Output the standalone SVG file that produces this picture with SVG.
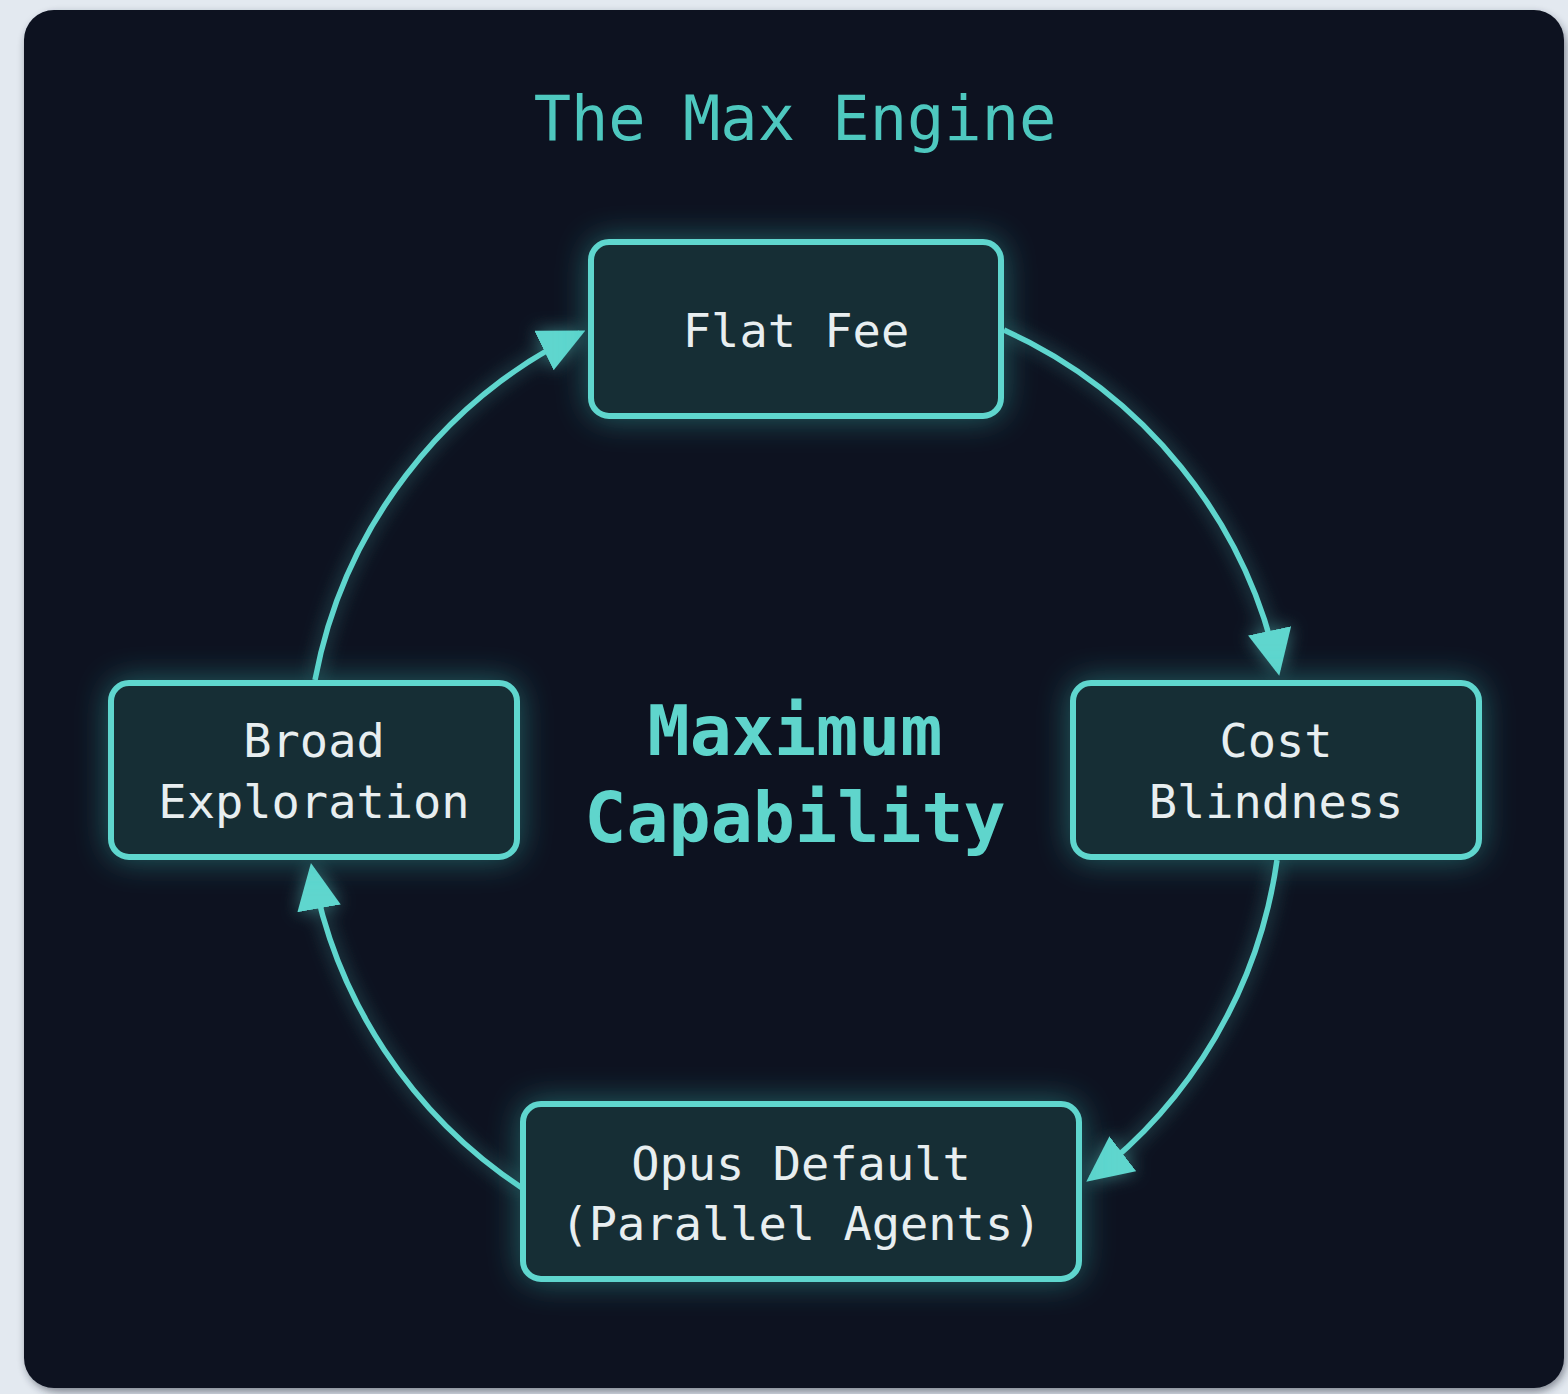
<svg xmlns="http://www.w3.org/2000/svg" width="1568" height="1394" viewBox="0 0 1568 1394">
<style>
.box{fill:#192f35;stroke:#5fd6ce;stroke-width:6}
.lbl{font-family:"DejaVu Sans Mono","Liberation Mono",monospace;font-size:47px;fill:#e8eef0;text-anchor:middle}
.edge{fill:none;stroke:#5fd6ce;stroke-width:5.5}
.title{font-family:"DejaVu Sans Mono","Liberation Mono",monospace;font-size:62px;fill:#4ec8bf;text-anchor:middle}
.center{font-family:"DejaVu Sans Mono","Liberation Mono",monospace;font-size:70px;font-weight:bold;fill:#5fd5cc;text-anchor:middle}
</style>
<defs>
<filter id="glow" x="-30%" y="-40%" width="160%" height="180%">
<feGaussianBlur in="SourceAlpha" stdDeviation="16" result="b"/>
<feFlood flood-color="#3fc4bb" flood-opacity="0.45"/>
<feComposite in2="b" operator="in" result="g"/>
<feMerge><feMergeNode in="g"/><feMergeNode in="SourceGraphic"/></feMerge>
</filter>
<filter id="glowL" x="-20%" y="-20%" width="140%" height="140%">
<feGaussianBlur in="SourceGraphic" stdDeviation="9" result="b"/>
<feComponentTransfer in="b" result="b2"><feFuncA type="linear" slope="0.5"/></feComponentTransfer>
<feMerge><feMergeNode in="b2"/><feMergeNode in="SourceGraphic"/></feMerge>
</filter>
<filter id="shadow" x="-5%" y="-5%" width="110%" height="110%">
<feGaussianBlur stdDeviation="4"/>
</filter>
<marker id="ah" markerUnits="userSpaceOnUse" markerWidth="46" markerHeight="44" viewBox="0 0 46 44" refX="40" refY="22" orient="auto">
<path d="M0,0 L46,22 L0,44 z" fill="#5fd6ce"/>
</marker>
</defs>
<rect width="1568" height="1394" fill="#e3e9f0"/>
<rect x="26" y="14" width="1540" height="1378" rx="32" fill="#1c2230" opacity="0.5" filter="url(#shadow)"/>
<rect x="24" y="10" width="1540" height="1378" rx="30" fill="#0d1220"/>
<text class="title" x="795" y="140">The Max Engine</text>
<g id="connectors" filter="url(#glowL)">
<path class="edge" d="M 315 680 A 485 485 0 0 1 580 333" marker-end="url(#ah)"/>
<path class="edge" d="M 1004 330 A 485 485 0 0 1 1278 670" marker-end="url(#ah)"/>
<path class="edge" d="M 1277 860 A 485 485 0 0 1 1091 1178" marker-end="url(#ah)"/>
<path class="edge" d="M 522 1188 A 485 485 0 0 1 312 869" marker-end="url(#ah)"/>
</g>
<g id="node-flat-fee">
<rect class="box" x="591" y="242" width="410" height="174" rx="18" filter="url(#glow)"/>
<text class="lbl" x="796" y="347">Flat Fee</text>
</g>
<g id="node-cost-blindness">
<rect class="box" x="1073" y="683" width="406" height="174" rx="18" filter="url(#glow)"/>
<text class="lbl" x="1276" y="757">Cost</text>
<text class="lbl" x="1276" y="818">Blindness</text>
</g>
<g id="node-opus-default">
<rect class="box" x="523" y="1104" width="556" height="175" rx="18" filter="url(#glow)"/>
<text class="lbl" x="801" y="1180">Opus Default</text>
<text class="lbl" x="801" y="1240">(Parallel Agents)</text>
</g>
<g id="node-broad-exploration">
<rect class="box" x="111" y="683" width="406" height="174" rx="18" filter="url(#glow)"/>
<text class="lbl" x="314" y="757">Broad</text>
<text class="lbl" x="314" y="818">Exploration</text>
</g>
<g id="center-label">
<text class="center" x="795" y="755">Maximum</text>
<text class="center" x="795" y="842">Capability</text>
</g>
</svg>
